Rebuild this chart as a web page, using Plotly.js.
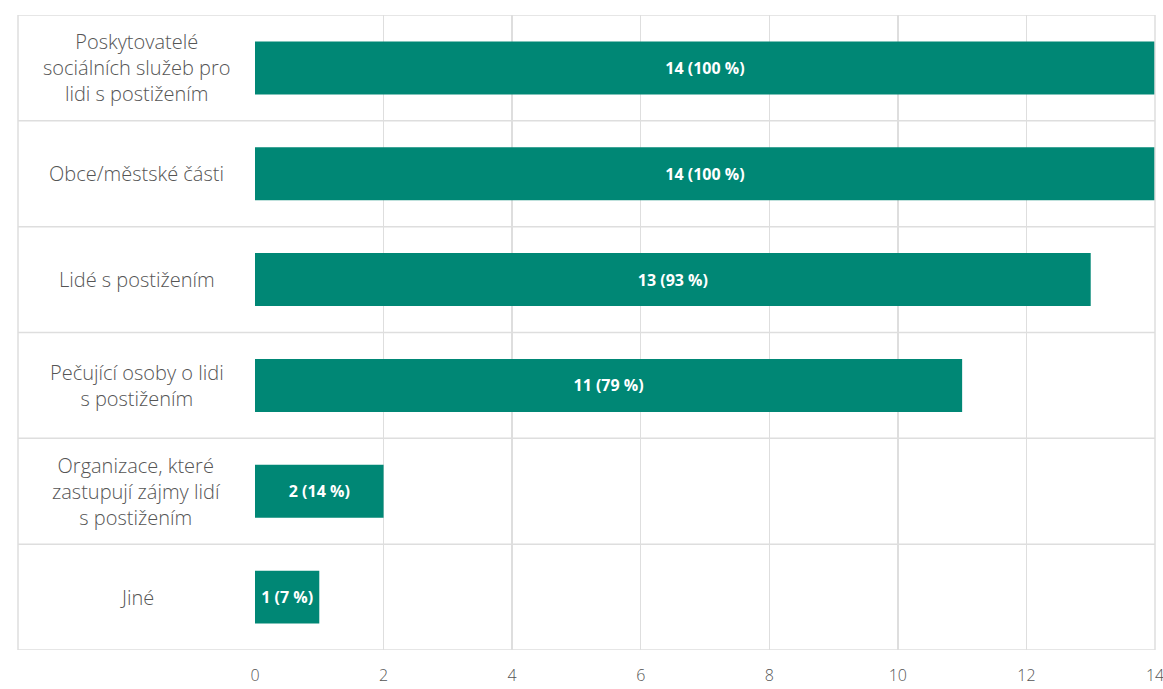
<!DOCTYPE html>
<html>
<head>
<meta charset="utf-8">
<script src="https://cdn.plot.ly/plotly-3.0.1.min.js"></script>
<style>html,body{margin:0;padding:0;background:#fff;}#chart{width:1163px;height:689px;}</style>
</head>
<body>
<div id="chart"></div>
<script>
const categories = [
  "Poskytovatelé<br>sociálních služeb pro<br>lidi s postižením",
  "Obce/městské části",
  "Lidé s postižením",
  "Pečující osoby o lidi<br>s postižením",
  "Organizace, které<br>zastupují zájmy lidí<br>s postižením",
  "Jiné"
];
const counts = [14, 14, 13, 11, 2, 1];
const percents = [100, 100, 93, 79, 14, 7];
const xTicks = [0, 2, 4, 6, 8, 10, 12, 14];

const W = 1163, H = 689;
const mL = 255, mR = 8, mT = 15, mB = 39;
const plotW = W - mL - mR;
const boxLeft = 18;
const leftPaper = -(mL - boxLeft) / plotW;
const gridColor = "#dedede";

const shapes = [];
for (let i = 0; i <= categories.length; i++) {
  shapes.push({type: "line", xref: "paper", yref: "y", x0: leftPaper, x1: 1, y0: i - 0.5, y1: i - 0.5,
    line: {color: gridColor, width: 1.5}, layer: "below"});
}
shapes.push({type: "line", xref: "paper", yref: "paper", x0: leftPaper, x1: leftPaper, y0: 0, y1: 1,
  line: {color: gridColor, width: 1.5}, layer: "below"});
shapes.push({type: "line", xref: "paper", yref: "paper", x0: 1, x1: 1, y0: 0, y1: 1,
  line: {color: gridColor, width: 1.5}, layer: "above"});

const labelCenter = leftPaper / 2;
const annotations = categories.map((c, i) => ({
  xref: "paper", yref: "y", x: labelCenter, y: i, text: c, showarrow: false,
  xanchor: "center", yanchor: "middle", align: "center",
  font: {family: "Open Sans, sans-serif", size: 20, weight: 300, color: "#555555"}
}));

const trace = {
  type: "bar", orientation: "h",
  x: counts, y: categories.map((c, i) => i),
  customdata: percents,
  texttemplate: "<b>%{x} (%{customdata} %)</b>",
  textposition: "inside", insidetextanchor: "middle",
  textfont: {family: "Open Sans, sans-serif", size: 16, color: "#ffffff"},
  marker: {color: "#008775"},
  width: 0.5,
  hoverinfo: "skip"
};

const layout = {
  width: W, height: H,
  margin: {l: mL, r: mR, t: mT, b: mB},
  paper_bgcolor: "#fff", plot_bgcolor: "#fff",
  showlegend: false,
  xaxis: {range: [0, 14], tickvals: xTicks, ticktext: xTicks.map(String),
    showgrid: true, gridcolor: gridColor, gridwidth: 1.5, zeroline: false,
    showline: false, ticks: "", ticklabelstandoff: 14, ticklabeloverflow: "allow",
    tickfont: {family: "Open Sans, sans-serif", size: 16, weight: 300, color: "#555555"}, fixedrange: true},
  yaxis: {range: [5.5, -0.5], showticklabels: false, showgrid: false, zeroline: false,
    showline: false, ticks: "", fixedrange: true},
  shapes: shapes,
  annotations: annotations,
  uniformtext: {mode: false}
};

Plotly.newPlot("chart", [trace], layout, {displayModeBar: false, staticPlot: true});
</script>
</body>
</html>
